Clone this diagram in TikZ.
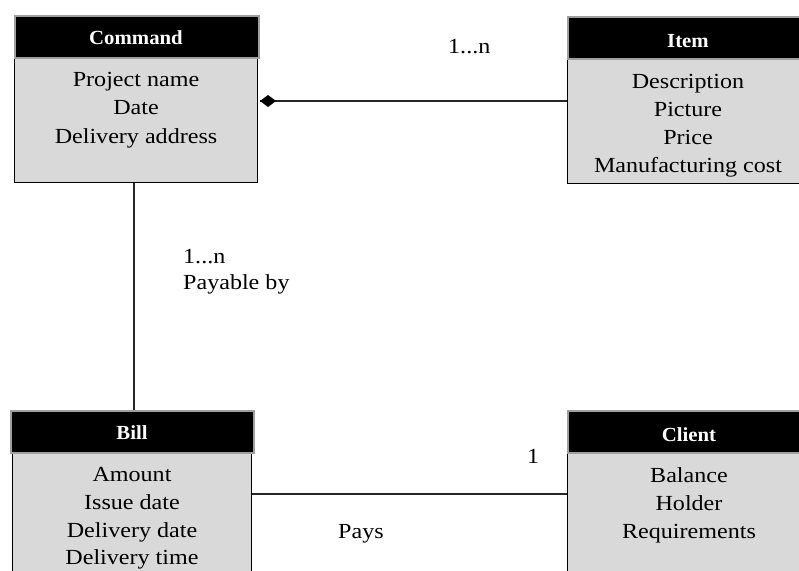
\documentclass[tikz,border=0pt]{standalone}
\usepackage{fontspec}
\setmainfont{Liberation Serif}[FakeStretch=1.12]
\newfontfamily\hdrfont{Liberation Serif}[FakeStretch=1.04]
\usetikzlibrary{arrows.meta}
\definecolor{bodygray}{RGB}{217,217,217}
\tikzset{
  hdr/.style={draw=gray!75, line width=2pt, fill=black, anchor=north west, inner sep=0pt},
  bodybox/.style={draw=black, line width=1.2pt, fill=bodygray, anchor=north west, inner sep=0pt},
  title/.style={text=white, font=\hdrfont\fontsize{20}{24}\selectfont\bfseries, anchor=base, inner sep=0pt},
  attr/.style={font=\fontsize{21.5}{24}\selectfont, anchor=base, inner sep=0pt},
  lbl/.style={font=\fontsize{21.5}{24}\selectfont, anchor=base west, inner sep=0pt},
  conn/.style={draw=black!85, line width=1.3pt}
}
\begin{document}
\begin{tikzpicture}[x=1pt,y=-1pt]
\useasboundingbox (0,0) rectangle (799,570);
\clip (0,0) rectangle (799,570);
% Command
\node[bodybox, minimum width=243pt, minimum height=125pt] (cmdb) at (14,57) {};
\node[hdr, minimum width=244pt, minimum height=42pt] (cmdh) at (14,15) {};
\node[title] (cmdt) at (136,44) {Command};
\node[attr] (c1) at (136,86) {Project name};
\node[attr] (c2) at (136,114.5) {Date};
\node[attr] (c3) at (136,143) {Delivery address};
% Item
\node[bodybox, minimum width=245pt, minimum height=125pt] (itmb) at (567,58) {};
\node[hdr, minimum width=245pt, minimum height=42pt] (itmh) at (567,16) {};
\node[title] (itmt) at (688,47) {Item};
\node[attr] (i1) at (688,88) {Description};
\node[attr] (i2) at (688,116.5) {Picture};
\node[attr] (i3) at (688,144.5) {Price};
\node[attr] (i4) at (688,172) {Manufacturing cost};
% Bill
\node[bodybox, minimum width=239pt, minimum height=130pt] (bilb) at (12,452) {};
\node[hdr, minimum width=243pt, minimum height=42pt] (bilh) at (10,410) {};
\node[title] (bilt) at (132,439) {Bill};
\node[attr] (b1) at (132,481) {Amount};
\node[attr] (b2) at (132,509) {Issue date};
\node[attr] (b3) at (132,537) {Delivery date};
\node[attr] (b4) at (132,564.5) {Delivery time};
% Client
\node[bodybox, minimum width=245pt, minimum height=130pt] (clib) at (567,452) {};
\node[hdr, minimum width=245pt, minimum height=42pt] (clih) at (567,410) {};
\node[title] (clit) at (689,441) {Client};
\node[attr] (k1) at (689,482) {Balance};
\node[attr] (k2) at (689,510) {Holder};
\node[attr] (k3) at (689,538) {Requirements};
% connectors
\coordinate (dia) at (260,101);
\draw[conn, line width=2.4pt] (dia) -- (dia -| itmb.west);
\fill[black] (dia) -- ++(8,-6) -- ++(8,6) -- ++(-8,6) -- cycle;
\draw[conn] (cmdb.south -| 134,0) -- (134,0 |- bilh.north);
\draw[conn, line width=1.2pt] (bilb.east |- 0,494) -- (clib.west |- 0,494);
% labels
\node[lbl] (l1) at (448,53) {1...n};
\node[lbl] (l2) at (183,263) {1...n};
\node[lbl] (l3) at (183,289) {Payable by};
\node[lbl] (l4) at (527,463) {1};
\node[lbl] (l5) at (338,538) {Pays};
\end{tikzpicture}
\end{document}
